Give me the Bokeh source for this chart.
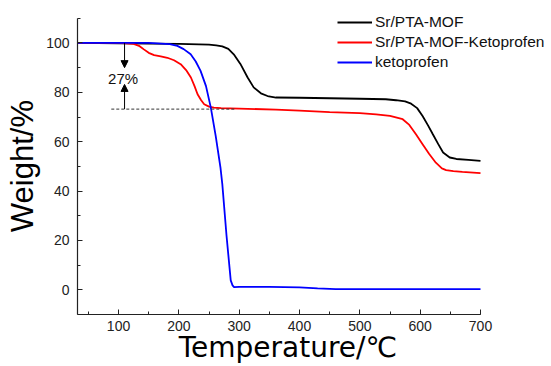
import math
from bokeh.plotting import figure
from bokeh.models import Range1d, SingleIntervalTicker, Label, Arrow, NormalHead
from bokeh.embed import file_html
from bokeh.resources import INLINE

# ---- data ----
mof_t = [32, 100, 200, 250, 262, 272, 282, 291, 302, 314, 324, 336, 347, 361, 400,
         450, 500, 543, 560, 575, 585, 595, 604, 613, 621, 630, 638, 649, 660, 680, 700]
mof_w = [100, 99.8, 99.6, 99.3, 99.0, 98.6, 97.6, 95.4, 91.5, 86.0, 82.0, 79.6, 78.5,
         77.9, 77.8, 77.6, 77.4, 77.2, 76.8, 76.3, 75.4, 73.6, 70.4, 66.6, 63.0, 59.0,
         55.6, 53.6, 53.0, 52.6, 52.2]

drug_mof_t = [32, 100, 125, 135, 142, 150, 159, 170, 181, 192, 203, 212, 220, 226, 231,
              237, 242, 250, 258, 270, 300, 361, 400, 450, 500, 527, 550, 571, 582, 593,
              604, 615, 626, 636, 643, 655, 670, 700]
drug_mof_w = [100, 100, 99.6, 98.7, 97.4, 96.0, 95.1, 94.6, 94.0, 93.0, 91.4, 89.0, 86.0,
              82.5, 79.2, 76.8, 75.2, 74.2, 73.8, 73.6, 73.4, 73.0, 72.6, 72.0, 71.6,
              71.1, 70.5, 69.1, 66.8, 63.0, 59.0, 55.0, 51.5, 49.2, 48.5, 48.1, 47.8, 47.3]

keto_t = [32, 150, 185, 197.5, 208, 219.6, 228, 236, 245, 253, 261, 269, 272, 279, 286,
          289, 291.5, 300, 350, 400, 430, 460, 550, 700]
keto_w = [100, 100, 99.5, 98.8, 97.5, 95.4, 92.5, 88.7, 82.5, 73.8, 62.5, 49.5, 42.9,
          22.0, 3.8, 1.8, 1.1, 1.2, 1.2, 1.0, 0.6, 0.3, 0.3, 0.3]

names = ["Sr/PTA-MOF", "Sr/PTA-MOF-Ketoprofen", "ketoprofen"]
colors = ["#000000", "#ff0000", "#0000ff"]

loss_label = "27%"
loss_level = 73.2
loss_x = 110
x_title = "Temperature/\u2103"
y_title = "Weight/%"

FONT = "Liberation Sans"
NBSP = "\u00a0"

p = figure(width=551, height=366, output_backend="svg", toolbar_location=None,
           x_range=Range1d(32, 817.7), y_range=Range1d(-10, 117.2),
           min_border_left=77, min_border_right=0, min_border_top=0,
           min_border_bottom=52)
p.outline_line_color = None
p.xgrid.visible = False
p.ygrid.visible = False
p.background_fill_color = "white"

for ax, tick, bnd in ((p.xaxis[0], SingleIntervalTicker(interval=100, num_minor_ticks=2), (32, 700)),
                      (p.yaxis[0], SingleIntervalTicker(interval=20, num_minor_ticks=2), (-10, 110))):
    ax.ticker = tick
    ax.bounds = bnd
    ax.axis_line_color = "#222222"
    ax.axis_line_width = 1.2
    ax.major_tick_line_color = "#222222"
    ax.minor_tick_line_color = "#222222"
    ax.major_tick_in = 5
    ax.major_tick_out = 0
    ax.minor_tick_in = 3
    ax.minor_tick_out = 0
    ax.major_label_text_font = FONT
    ax.major_label_text_font_size = "14px"
    ax.major_label_text_color = "#222222"
    ax.axis_label_text_font_style = "normal"
    ax.axis_label_text_color = "#000000"

p.xaxis.major_label_standoff = 6
p.yaxis.major_label_standoff = 8
# trailing no-break spaces shift the centred titles to sit over the drawn axis span
p.xaxis.axis_label = x_title + NBSP * 6
p.yaxis.axis_label = y_title + NBSP * 2
p.xaxis.axis_label_text_font = "DejaVu Sans"
p.xaxis.axis_label_text_font_size = "28px"
p.yaxis.axis_label_text_font = FONT
p.yaxis.axis_label_text_font_size = "31px"
p.xaxis.axis_label_standoff = -3
p.yaxis.axis_label_standoff = 3

series = [(mof_t, mof_w), (drug_mof_t, drug_mof_w), (keto_t, keto_w)]
for (t, w), n, c in zip(series, names, colors):
    p.line(t, w, line_color=c, line_width=1.8, legend_label=n)

# annotation: dashed level and arrows
p.line([88, 294], [loss_level, loss_level], line_color="#333333", line_width=1,
       line_dash="3 2")
p.add_layout(Arrow(end=NormalHead(size=7, fill_color="black", line_color="black"),
                   x_start=loss_x, y_start=100, x_end=loss_x, y_end=90,
                   line_color="black", line_width=1))
p.add_layout(Arrow(end=NormalHead(size=7, fill_color="black", line_color="black"),
                   x_start=loss_x, y_start=loss_level, x_end=loss_x, y_end=83.2,
                   line_color="black", line_width=1))
p.add_layout(Label(x=107.5, y=85.8, text=loss_label, text_align="center",
                   text_baseline="middle", text_font=FONT, text_font_size="15px",
                   text_color="#111111"))

lg = p.legend[0]
lg.location = (260, 242)
lg.glyph_width = 35
lg.glyph_height = 20
lg.label_height = 20
lg.label_standoff = 3
lg.spacing = 0
lg.padding = 0
lg.margin = 0
lg.border_line_color = None
lg.background_fill_alpha = 0
lg.label_text_font = FONT
lg.label_text_font_size = "15.5px"
lg.label_text_color = "#111111"

open("out.html", "w").write(file_html(p, INLINE))
